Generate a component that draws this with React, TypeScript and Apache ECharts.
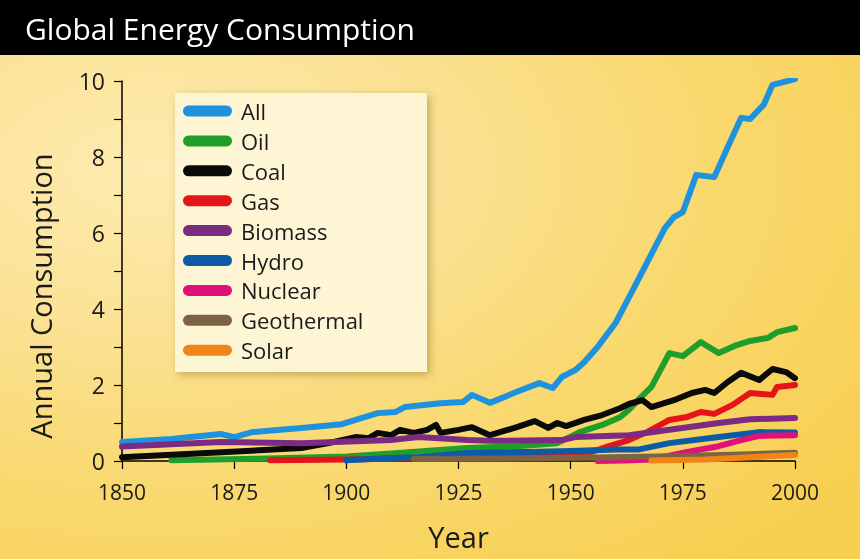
import React, { useEffect, useRef } from "react";
import * as echarts from "echarts";

const TITLE = "Global Energy Consumption";
const X_NAME = "Year";
const Y_NAME = "Annual Consumption";
const SERIES_NAMES = ["All", "Oil", "Coal", "Gas", "Biomass", "Hydro", "Nuclear", "Geothermal", "Solar"];
const SERIES_COLORS = ["#1E92DC", "#1F9E2C", "#0A0A0A", "#E5141B", "#7B2B83", "#0D5BA6", "#E0127A", "#7D6343", "#F08418"];

const allData: [number, number][] = [
  [1850, 0.5], [1861, 0.58], [1872, 0.71], [1875, 0.63], [1879, 0.76], [1890, 0.87], [1899, 0.97],
  [1907, 1.26], [1911, 1.29], [1913, 1.42], [1921, 1.52], [1926, 1.55], [1928, 1.74], [1932, 1.53],
  [1938, 1.82], [1943, 2.05], [1946, 1.92], [1948, 2.21], [1951, 2.39], [1953, 2.6], [1956, 3.0],
  [1960, 3.63], [1965, 4.76], [1971, 6.13], [1973, 6.42], [1975, 6.55], [1978, 7.53], [1982, 7.47],
  [1985, 8.26], [1988, 9.03], [1990, 9.0], [1993, 9.37], [1995, 9.9], [2000, 10.05],
];
const oilData: [number, number][] = [
  [1861, 0.02], [1880, 0.06], [1900, 0.12], [1910, 0.2], [1920, 0.28], [1927, 0.34], [1938, 0.39],
  [1947, 0.47], [1952, 0.76], [1957, 0.95], [1961, 1.15], [1963, 1.35], [1965, 1.6], [1968, 1.95],
  [1972, 2.84], [1975, 2.76], [1979, 3.13], [1983, 2.84], [1987, 3.05], [1990, 3.16], [1994, 3.24],
  [1996, 3.39], [2000, 3.5],
];
const coalData: [number, number][] = [
  [1850, 0.1], [1870, 0.22], [1890, 0.34], [1896, 0.47], [1902, 0.63], [1905, 0.6], [1907, 0.74],
  [1910, 0.68], [1912, 0.82], [1915, 0.74], [1918, 0.82], [1920, 0.95], [1921, 0.74], [1925, 0.82],
  [1928, 0.89], [1932, 0.68], [1938, 0.89], [1942, 1.05], [1945, 0.87], [1947, 1.0], [1949, 0.92],
  [1953, 1.08], [1957, 1.21], [1961, 1.39], [1963, 1.5], [1966, 1.6], [1968, 1.42], [1973, 1.6],
  [1977, 1.79], [1980, 1.87], [1982, 1.79], [1985, 2.08], [1988, 2.32], [1992, 2.13], [1995, 2.42],
  [1998, 2.34], [2000, 2.18],
];
const gasData: [number, number][] = [
  [1883, 0.02], [1900, 0.04], [1915, 0.07], [1930, 0.09], [1945, 0.12], [1950, 0.17], [1955, 0.25],
  [1958, 0.37], [1963, 0.55], [1967, 0.76], [1972, 1.08], [1976, 1.16], [1979, 1.29], [1982, 1.24],
  [1986, 1.47], [1990, 1.79], [1995, 1.74], [1996, 1.95], [2000, 2.0],
];
const biomassData: [number, number][] = [
  [1850, 0.38], [1872, 0.5], [1890, 0.47], [1910, 0.55], [1916, 0.63], [1927, 0.55], [1932, 0.53],
  [1948, 0.55], [1951, 0.63], [1963, 0.68], [1972, 0.82], [1983, 1.0], [1990, 1.1], [2000, 1.13],
];
const hydroData: [number, number][] = [
  [1900, 0.02], [1910, 0.08], [1916, 0.1], [1927, 0.21], [1940, 0.24], [1950, 0.26], [1960, 0.3],
  [1965, 0.3], [1972, 0.47], [1983, 0.63], [1992, 0.76], [2000, 0.75],
];
const nuclearData: [number, number][] = [
  [1956, 0.0], [1962, 0.01], [1968, 0.04], [1976, 0.24], [1983, 0.39], [1988, 0.55], [1992, 0.66], [2000, 0.68],
];
const geothermalData: [number, number][] = [
  [1915, 0.05], [1940, 0.07], [1960, 0.1], [1975, 0.13], [1990, 0.18], [2000, 0.22],
];
const solarData: [number, number][] = [
  [1968, 0.01], [1980, 0.04], [1990, 0.1], [2000, 0.16],
];

const SERIES_DATA = [allData, oilData, coalData, gasData, biomassData, hydroData, nuclearData, geothermalData, solarData];

const X_MIN = 1850;
const X_MAX = 2000;
const X_STEP = 25;
const Y_MIN = 0;
const Y_MAX = 10;
const Y_STEP = 1;

const FONT = "'Open Sans', 'Noto Sans', sans-serif";

export default function App() {
  const ref = useRef<HTMLDivElement>(null);

  useEffect(() => {
    document.body.style.margin = "0";
    if (!ref.current) return;
    const chart = echarts.init(ref.current, undefined, { renderer: "svg" });
    const pill = "path://M5.5,0H43.5A5.5,5.5,0,0,1,43.5,11H5.5A5.5,5.5,0,0,1,5.5,0Z";
    chart.setOption({
      animation: false,
      backgroundColor: "transparent",
      title: {
        text: TITLE,
        left: 20,
        top: 8,
        textStyle: { color: "#ffffff", fontSize: 30, fontWeight: "normal", fontFamily: FONT },
      },
      graphic: [
        {
          type: "rect",
          z: 0,
          shape: { x: 0, y: 0, width: 860, height: 55 },
          style: { fill: "#000000" },
        },
        {
          type: "rect",
          z: 1,
          shape: { x: 175, y: 93, width: 252, height: 279 },
          style: {
            fill: "#FDF5D3",
            shadowBlur: 8,
            shadowOffsetX: 3,
            shadowOffsetY: 3,
            shadowColor: "rgba(90,70,0,0.35)",
          },
        },
        {
          type: "text",
          z: 5,
          x: 40,
          y: 296,
          rotation: Math.PI / 2,
          style: {
            text: Y_NAME,
            fill: "#1a1a1a",
            font: `29px ${FONT}`,
            align: "center",
            verticalAlign: "middle",
          },
        },
      ],
      legend: {
        orient: "vertical",
        left: 183,
        top: 100,
        padding: 0,
        itemWidth: 49,
        itemHeight: 11,
        itemGap: 7.9,
        icon: pill,
        data: SERIES_NAMES,
        textStyle: { fontSize: 22, lineHeight: 20, color: "#1a1a1a", fontFamily: FONT, padding: [0, 0, 0, 4] },
      },
      grid: { left: 122, right: 65, top: 81, bottom: 98, containLabel: false, outerBoundsMode: "none" },
      xAxis: {
        type: "value",
        min: X_MIN,
        max: X_MAX,
        interval: X_STEP,
        name: X_NAME,
        nameLocation: "middle",
        nameGap: 61,
        nameTextStyle: { fontSize: 29, color: "#1a1a1a", fontFamily: FONT },
        axisLine: { show: true, lineStyle: { color: "#000", width: 1.5 } },
        axisTick: { show: true, inside: false, length: 8, lineStyle: { color: "#000", width: 1.2 } },
        axisLabel: { fontSize: 21, color: "#1a1a1a", fontFamily: FONT, margin: 20, formatter: (v: number) => String(v) },
        splitLine: { show: false },
      },
      yAxis: {
        type: "value",
        min: Y_MIN,
        max: Y_MAX,
        interval: Y_STEP,
        axisLine: { show: true, lineStyle: { color: "#000", width: 1.5 } },
        axisTick: { show: true, inside: false, length: 8, lineStyle: { color: "#000", width: 1.2 } },
        axisLabel: {
          fontSize: 23,
          color: "#1a1a1a",
          fontFamily: FONT,
          margin: 17,
          formatter: (v: number) => (v % 2 === 0 ? String(v) : ""),
        },
        splitLine: { show: false },
      },
      series: SERIES_NAMES.map((name, i) => ({
        name,
        type: "line",
        data: SERIES_DATA[i],
        showSymbol: false,
        symbol: "none",
        itemStyle: { color: SERIES_COLORS[i] },
        lineStyle: { color: SERIES_COLORS[i], width: 6, join: "round", cap: "round" },
        z: 2,
      })),
    });
    return () => chart.dispose();
  }, []);

  return (
    <div
      ref={ref}
      style={{
        position: "fixed",
        left: 0,
        top: 0,
        width: 860,
        height: 559,
        background: "radial-gradient(ellipse 105% 95% at 18% 30%, #FDEBB0 0%, #FBE295 30%, #F9D86E 62%, #F7CE4E 100%)",
      }}
    />
  );
}
